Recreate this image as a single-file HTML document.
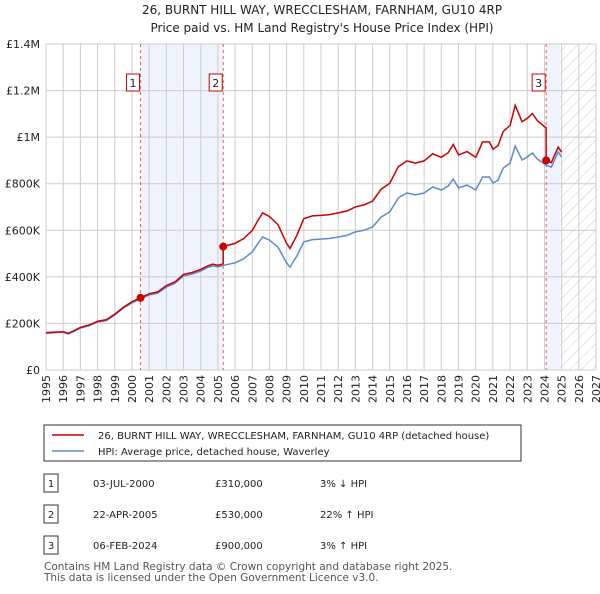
<!DOCTYPE html>
<html><head><meta charset="utf-8"><style>
body{margin:0;background:#fff;font-family:"DejaVu Sans","Liberation Sans",sans-serif;}
svg text{font-family:"DejaVu Sans","Liberation Sans",sans-serif;}
</style></head><body>
<svg id="c" width="600" height="590" xmlns="http://www.w3.org/2000/svg">
<defs><pattern id="hatch" width="8" height="8" patternUnits="userSpaceOnUse" patternTransform="rotate(45)"><line x1="0" y1="0" x2="0" y2="8" stroke="#ccc" stroke-width="1"/></pattern></defs>
<text x="322" y="14" text-anchor="middle" font-size="12" fill="#222">26, BURNT HILL WAY, WRECCLESHAM, FARNHAM, GU10 4RP</text>
<text x="322" y="32" text-anchor="middle" font-size="12" fill="#222">Price paid vs. HM Land Registry's House Price Index (HPI)</text>
<g id="grid"></g><g id="marks"></g><g id="axes"></g>
<g>
<rect x="44" y="425" width="477" height="36" fill="#fff" stroke="#333"/>
<line x1="52" y1="435" x2="84" y2="435" stroke="#cc0000" stroke-width="1.5"/>
<text x="98" y="439" font-size="10" fill="#222">26, BURNT HILL WAY, WRECCLESHAM, FARNHAM, GU10 4RP (detached house)</text>
<line x1="52" y1="451" x2="84" y2="451" stroke="#5b8bd0" stroke-width="1.5"/>
<text x="98" y="455" font-size="10" fill="#222">HPI: Average price, detached house, Waverley</text>
</g>
<g id="table" font-size="10" fill="#222"></g>
<text x="44" y="570" font-size="10.5" fill="#555">Contains HM Land Registry data © Crown copyright and database right 2025.</text>
<text x="44" y="581" font-size="10.5" fill="#555">This data is licensed under the Open Government Licence v3.0.</text>
</svg>
<script>
const yearsHpi=[1995,1995.5,1996,1996.3,1996.6,1997,1997.5,1998,1998.5,1999,1999.5,2000,2000.5,2001,2001.5,2002,2002.5,2003,2003.5,2004,2004.4,2004.7,2005,2005.5,2006,2006.5,2007,2007.3,2007.6,2008,2008.5,2009,2009.2,2009.6,2010,2010.5,2011,2011.5,2012,2012.5,2013,2013.5,2014,2014.5,2015,2015.5,2016,2016.5,2017,2017.5,2018,2018.4,2018.7,2019,2019.5,2020,2020.2,2020.4,2020.8,2021,2021.3,2021.6,2022,2022.3,2022.7,2023,2023.3,2023.6,2024.1,2024.4,2024.8,2025];
const hpiValues=[158,160,162,155,165,180,190,206,212,236,265,288,305,322,330,356,372,404,412,425,440,447,443,452,460,478,507,540,571,558,528,460,442,490,550,560,562,565,571,578,593,600,614,657,679,739,760,752,760,786,773,790,820,782,794,773,800,829,829,803,815,867,889,962,902,915,932,905,880,871,936,915];
const saleYears=[2000.5,2005.31,2024.1];
const salePrices=[310,530,900];
const yTicks=[0,200,400,600,800,1000,1200,1400];
const yTickLabels=["£0","£200K","£400K","£600K","£800K","£1M","£1.2M","£1.4M"];
const xTicks=[1995,1996,1997,1998,1999,2000,2001,2002,2003,2004,2005,2006,2007,2008,2009,2010,2011,2012,2013,2014,2015,2016,2017,2018,2019,2020,2021,2022,2023,2024,2025,2026,2027];
const saleLabels=["1","2","3"];
const saleDates=["03-JUL-2000","22-APR-2005","06-FEB-2024"];
const salePriceText=["£310,000","£530,000","£900,000"];
const saleHpiText=["3% ↓ HPI","22% ↑ HPI","3% ↑ HPI"];

const L=46,R=596,T=44,B=370,X0=1995,X1=2027,YM=1400;
const x=v=>L+(v-X0)/(X1-X0)*(R-L);
const y=v=>B-v/YM*(B-T);
const NS="http://www.w3.org/2000/svg";
function mk(tag,parent,attrs){const e=document.createElementNS(NS,tag);for(const k in attrs)e.setAttribute(k,attrs[k]);document.getElementById(parent).appendChild(e);return e;}
function hpiAt(t){for(let i=0;i<yearsHpi.length-1;i++){if(t<=yearsHpi[i+1]){const f=(t-yearsHpi[i])/(yearsHpi[i+1]-yearsHpi[i]);return hpiValues[i]+f*(hpiValues[i+1]-hpiValues[i]);}}return hpiValues[hpiValues.length-1];}

let s=mk('rect','grid',{x:x(saleYears[0]),y:T,width:x(saleYears[1])-x(saleYears[0]),height:B-T,fill:'#eef3fc'});

s=mk('rect','grid',{x:x(saleYears[2]),y:T,width:x(2024.9)-x(saleYears[2]),height:B-T,fill:'#eef3fc'});

s=mk('rect','grid',{x:x(2024.9),y:T,width:R-x(2024.9),height:B-T,fill:'url(#hatch)'});

xTicks.forEach(t=>{const g=mk('line','grid',{x1:x(t),x2:x(t),y1:T,y2:B,stroke:'#ccc','stroke-width':1});

const lx=x(t)+4,ly=B+5;
const lb=mk('text','axes',{x:lx,y:ly,'text-anchor':'end','font-size':11,fill:'#222',transform:'rotate(-90 '+lx+' '+ly+')'});lb.textContent=t;
});
yTicks.forEach((t,i)=>{const g=mk('line','grid',{x1:L,x2:R,y1:y(t),y2:y(t),stroke:'#ccc','stroke-width':1});

const lb=mk('text','axes',{x:L-6,y:y(t)+4,'text-anchor':'end','font-size':11,fill:'#222'});lb.textContent=yTickLabels[i];
});

saleYears.forEach((t,i)=>{const v=mk('line','marks',{x1:x(t),x2:x(t),y1:T,y2:B,stroke:'#e06060','stroke-dasharray':'3,3','stroke-width':1});
});

let d='';yearsHpi.forEach((t,i)=>{d+=(i?'L':'M')+x(t).toFixed(1)+','+y(hpiValues[i]).toFixed(1);});
let p=mk('path','marks',{d:d,fill:'none',stroke:'#5b8bd0','stroke-width':1.5});


function ratio(t){let r=salePrices[0]/hpiAt(saleYears[0]);if(t<saleYears[0])return r;for(let i=saleYears.length-1;i>=0;i--){if(t>=saleYears[i])return salePrices[i]/hpiAt(saleYears[i]);}return r;}
const pts=[];yearsHpi.forEach(t=>pts.push(t));saleYears.forEach(t=>{pts.push(t-0.001);pts.push(t);});pts.sort((a,b)=>a-b);
d='';pts.forEach((t,i)=>{d+=(i?'L':'M')+x(t).toFixed(1)+','+y(hpiAt(t)*ratio(t)).toFixed(1);});
p=mk('path','marks',{d:d,fill:'none',stroke:'#cc0000','stroke-width':1.5});


saleYears.forEach((t,i)=>{const c=mk('circle','marks',{cx:x(t),cy:y(salePrices[i]),r:4,fill:'#cc0000'});

const bx=mk('rect','marks',{x:x(t)-14,y:74,width:13,height:17,fill:'#fff',stroke:'#cc0000'});

const tx=mk('text','marks',{x:x(t)-7.5,y:87,'text-anchor':'middle','font-size':11,fill:'#222'});tx.textContent=saleLabels[i];
});

const rowsY=[483,514,545];
saleLabels.forEach((l,i)=>{const ry=rowsY[i];
const b=mk('rect','table',{x:44,y:ry-9,width:14,height:18,fill:'#fff',stroke:'#333'});

const cells=[[51,l,'middle'],[93,saleDates[i],'start'],[215,salePriceText[i],'start'],[320,saleHpiText[i],'start']];
cells.forEach(c=>{const t=mk('text','table',{x:c[0],y:ry+4,'text-anchor':c[2],'font-size':10,fill:'#222'});t.textContent=c[1];
});});
</script>
</body></html>
